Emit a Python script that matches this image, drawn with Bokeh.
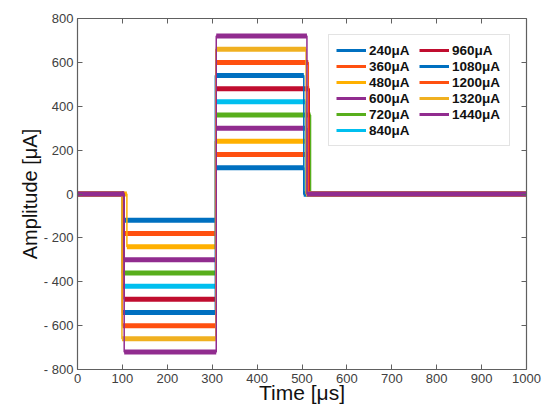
from bokeh.plotting import figure
from bokeh.models import (Range1d, LinearAxis, FixedTicker, Legend, LegendItem)
from bokeh.embed import file_html
from bokeh.resources import INLINE

# ---- data ----
labels = ["240μA", "360μA", "480μA", "600μA", "720μA", "840μA",
          "960μA", "1080μA", "1200μA", "1320μA", "1440μA"]
amps = [240, 360, 480, 600, 720, 840, 960, 1080, 1200, 1320, 1440]
t_on = [101, 100, 110, 103, 99, 101, 104, 100, 100, 99, 104]
t_mid = [308, 308, 307, 308, 308, 308, 308, 307, 308, 308, 309]
t_off = [504, 514, 509, 511, 519, 508, 516, 504, 514, 509, 511]
t_end = 1000
colors = ["#0070C0", "#FF5010", "#FFB000", "#912C8F", "#58AE1C", "#00BFEF",
          "#C00D2F", "#0070C0", "#FF5010", "#F0B020", "#912C8F"]
x_ticks = [0, 100, 200, 300, 400, 500, 600, 700, 800, 900, 1000]
y_ticks = [-800, -600, -400, -200, 0, 200, 400, 600, 800]
y_tick_labels = ["- 800", "- 600", "- 400", "- 200", "0", "200", "400", "600", "800"]

p = figure(width=544, height=418, output_backend="svg", toolbar_location=None,
           x_range=Range1d(0, 1000), y_range=Range1d(-800, 800),
           min_border_left=77, min_border_right=18, min_border_top=18,
           min_border_bottom=49)
p.xgrid.visible = False
p.ygrid.visible = False
p.outline_line_color = None
p.background_fill_color = "white"
p.border_fill_color = "white"

legend_items = []
for i in range(len(amps)):
    half = amps[i] / 2.0
    c = colors[i]
    xs = [0, t_on[i], t_on[i], t_mid[i], t_mid[i], t_off[i], t_off[i], t_end]
    ys = [0, 0, -half, -half, half, half, 0, 0]
    p.line(xs, ys, line_color=c, line_width=1.5)
    p.segment(x0=[0, t_on[i], t_mid[i], t_off[i]],
              y0=[0, -half, half, 0],
              x1=[t_on[i], t_mid[i], t_off[i], t_end],
              y1=[0, -half, half, 0],
              line_color=c, line_width=5, line_cap="butt")
    # legend proxy: same series, drawn outside the visible x range
    r = p.line([-t_end, -t_end + 1], [0, 0], line_color=c, line_width=3)
    legend_items.append(LegendItem(label=labels[i], renderers=[r]))

tick_font = "Liberation Sans"


def style_axis(ax, ticks, show_labels=True):
    ax.ticker = FixedTicker(ticks=ticks)
    ax.minor_tick_line_color = None
    ax.major_tick_in = 5
    ax.major_tick_out = 0
    ax.axis_line_color = "#606060"
    ax.major_tick_line_color = "#606060"
    ax.axis_line_width = 1.2
    if show_labels:
        ax.major_label_text_font = tick_font
        ax.major_label_text_font_size = "13px"
        ax.major_label_text_color = "#404040"
    else:
        ax.major_label_overrides = {t: "" for t in ticks}
        ax.major_label_text_color = None
        ax.major_label_standoff = 0


xa = p.xaxis[0]
style_axis(xa, x_ticks)
xa.major_label_standoff = 4
xa.axis_label = "Time [μs]"
xa.axis_label_text_font = tick_font
xa.axis_label_text_font_size = "21px"
xa.axis_label_text_font_style = "normal"
xa.axis_label_text_color = "#111111"
xa.axis_label_standoff = -5

ya = p.yaxis[0]
style_axis(ya, y_ticks)
ya.major_label_overrides = {t: s for t, s in zip(y_ticks, y_tick_labels)}
ya.major_label_standoff = 4
ya.axis_label = "Amplitude [μA]"
ya.axis_label_text_font = tick_font
ya.axis_label_text_font_size = "20px"
ya.axis_label_text_font_style = "normal"
ya.axis_label_text_color = "#111111"
ya.axis_label_standoff = 0

top = LinearAxis()
style_axis(top, x_ticks, show_labels=False)
p.add_layout(top, "above")
right = LinearAxis()
style_axis(right, y_ticks, show_labels=False)
p.add_layout(right, "right")

legend = Legend(items=legend_items, location="top_right", nrows=6)
legend.label_text_font = "Liberation Sans"
legend.label_text_font_style = "bold"
legend.label_text_font_size = "13.5px"
legend.label_text_line_height = 1.0
legend.label_text_color = "#111111"
legend.glyph_width = 30
legend.glyph_height = 16
legend.label_height = 16
legend.label_width = 50
legend.label_standoff = 3
legend.spacing = 0
legend.padding = 7
legend.margin = 16
legend.border_line_color = "#C8C8C8"
legend.border_line_width = 1.2
legend.background_fill_alpha = 1.0
p.add_layout(legend, "center")

open("out.html", "w").write(file_html(p, INLINE))
